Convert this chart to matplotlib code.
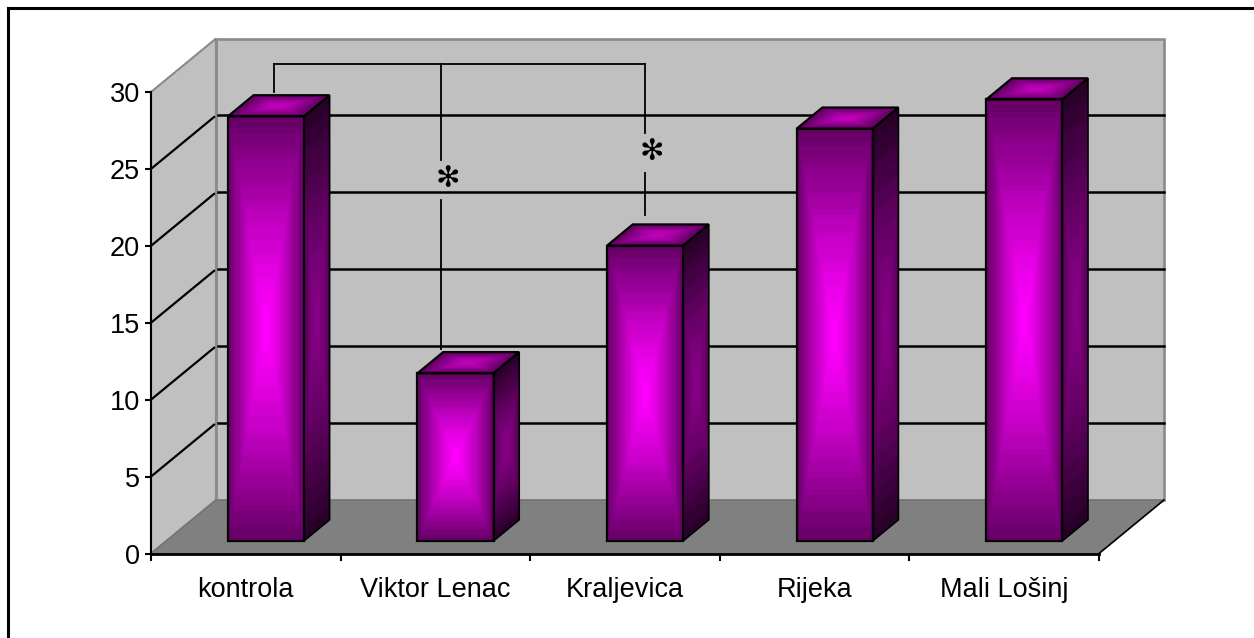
import numpy as np
import matplotlib
matplotlib.use("Agg")
import matplotlib.pyplot as plt
from matplotlib.colors import LinearSegmentedColormap
from matplotlib.lines import Line2D
from matplotlib.patches import Polygon

categories = ["kontrola", "Viktor Lenac", "Kraljevica", "Rijeka", "Mali Lošinj"]
values = [27.6, 10.9, 19.2, 26.8, 28.7]
y_ticks = [0, 5, 10, 15, 20, 25, 30]
grid_levels = [5, 10, 15, 20, 25]
bracket_y = 31.8
bracket_x = [0.649, 1.53, 2.606]
bracket_segments = [
    (0.649, 30.0, 31.8),
    (1.53, 25.6, 31.8),
    (1.53, 13.3, 23.0),
    (2.606, 27.35, 31.8),
    (2.606, 22.0, 24.75),
]
stars = [(1.567, 24.37), (2.64, 26.07)]

W, H = 1254, 638
L, R, T, B = 151, 1099, 92, 553.5
XMAX, YMAX = 5.0, 30.0
DX = 65 / (R - L) * XMAX
DY = 53.5 / (B - T) * YMAX
BAR_LEFT, BAR_W = 0.325, 0.401
D0, D1 = 0.235, 0.63

plt.rcParams["font.family"] = ["Liberation Sans", "DejaVu Sans"]
fig = plt.figure(figsize=(W / 100, H / 100), dpi=100, facecolor="white")
ax = fig.add_axes([L / W, 1 - B / H, (R - L) / W, (B - T) / H])
ax.set_xlim(0, XMAX)
ax.set_ylim(0, YMAX)
ax.patch.set_visible(False)


def P(x, y, d):
    return (x + d * DX, y + d * DY)


def poly(points, z, **kw):
    ax.add_patch(Polygon(points, closed=True, clip_on=False, zorder=z, **kw))


WALL, FLOOR, EDGE = "#c0c0c0", "#808080", "#8a8a8a"
poly([P(0, 0, 1), P(XMAX, 0, 1), P(XMAX, YMAX, 1), P(0, YMAX, 1)], 1,
     facecolor=WALL, edgecolor=EDGE, linewidth=1.9)
poly([P(0, 0, 0), P(0, YMAX, 0), P(0, YMAX, 1), P(0, 0, 1)], 1,
     facecolor=WALL, edgecolor=EDGE, linewidth=1.5)
poly([P(0, 0, 0), P(XMAX, 0, 0), P(XMAX, 0, 1), P(0, 0, 1)], 1.1,
     facecolor=FLOOR, edgecolor="#6e6e6e", linewidth=0.8)
ax.plot(*zip(P(XMAX, 0, 0), P(XMAX, 0, 1)), color="black", lw=1.2, clip_on=False, zorder=1.2)

for v in grid_levels:
    ax.plot(*zip(P(0, v, 0), P(0, v, 0.97)), color="black", lw=1.6, clip_on=False, zorder=1.3)
    ax.plot(*zip(P(0.012, v, 1), P(XMAX, v, 1)), color="black", lw=1.8, clip_on=False, zorder=1.3)


def shaded_face(p00, p10, p01, p11, bright, dark, z, uw=1.0):
    n = 72
    u, v = np.meshgrid(np.linspace(0, 1, n + 1), np.linspace(0, 1, n + 1))
    p00, p10, p01, p11 = map(np.array, (p00, p10, p01, p11))
    X = (1 - u) * (1 - v) * p00[0] + u * (1 - v) * p10[0] + (1 - u) * v * p01[0] + u * v * p11[0]
    Y = (1 - u) * (1 - v) * p00[1] + u * (1 - v) * p10[1] + (1 - u) * v * p01[1] + u * v * p11[1]
    uc = (u[:-1, :-1] + u[1:, 1:]) / 2
    vc = (v[:-1, :-1] + v[1:, 1:]) / 2
    t = np.maximum(uw * np.abs(2 * uc - 1), np.abs(2 * vc - 1))
    t = (np.floor(t * 24) / 23.0) ** 1.25
    cmap = LinearSegmentedColormap.from_list("g", [bright, dark])
    ax.pcolormesh(X, Y, t, cmap=cmap, vmin=0, vmax=1, shading="flat", clip_on=False,
                  zorder=z, antialiased=False, linewidth=0, rasterized=True)


for i, val in enumerate(values):
    x0, x1 = i + BAR_LEFT, i + BAR_LEFT + BAR_W
    z = 2 + i * 0.01
    f = [P(x0, 0, D0), P(x1, 0, D0), P(x0, val, D0), P(x1, val, D0)]
    s = [P(x1, 0, D0), P(x1, 0, D1), P(x1, val, D0), P(x1, val, D1)]
    t = [P(x0, val, D0), P(x1, val, D0), P(x0, val, D1), P(x1, val, D1)]
    shaded_face(*f, "#ff00ff", "#680068", z)
    shaded_face(*s, "#880088", "#280028", z, uw=0.6)
    shaded_face(*t, "#c400c0", "#600060", z)
    kw = dict(facecolor="none", edgecolor="black", linewidth=1.6, joinstyle="miter")
    poly([f[0], f[1], f[3], f[2]], z + 0.001, **kw)
    poly([s[0], s[1], s[3], s[2]], z + 0.001, facecolor="none", edgecolor="black", linewidth=1.2)
    poly([t[0], t[1], t[3], t[2]], z + 0.001, **kw)

ax.spines["top"].set_visible(False)
ax.spines["right"].set_visible(False)
ax.spines["left"].set_linewidth(1.5)
ax.spines["bottom"].set_linewidth(2.0)
ax.spines["left"].set_zorder(1.5)
ax.spines["bottom"].set_zorder(1.5)
ax.set_yticks(y_ticks)
ax.set_yticklabels([str(v) for v in y_ticks], fontsize=19.5)
ax.tick_params(axis="y", direction="out", length=4, width=1.5, pad=4)
ax.set_xticks(np.arange(len(categories) + 1))
ax.set_xticklabels([])
ax.tick_params(axis="x", which="major", direction="out", length=5, width=1.5)
ax.set_xticks(np.arange(len(categories)) + 0.5, minor=True)
ax.set_xticklabels(categories, minor=True, fontsize=19.5)
ax.tick_params(axis="x", which="minor", length=0, pad=17)

ax.plot([bracket_x[0], bracket_x[-1]], [bracket_y, bracket_y], color="black", lw=1.3,
        clip_on=False, zorder=5)
for sx, y0, y1 in bracket_segments:
    ax.plot([sx, sx], [y0, y1], color="black", lw=1.3, clip_on=False, zorder=5)

for sx, sy in stars:
    ax.text(sx, sy, "\u273b", fontsize=21, ha="center", va="center", color="black",
            family="DejaVu Sans", zorder=6)

fig.add_artist(Line2D([8 / W, 8 / W], [0, 1 - 8 / H], color="black", lw=2.2,
                      transform=fig.transFigure, solid_capstyle="projecting"))
fig.add_artist(Line2D([8 / W, 1], [1 - 8 / H, 1 - 8 / H], color="black", lw=2.2,
                      transform=fig.transFigure, solid_capstyle="projecting"))

fig.savefig("out.png", dpi=100, facecolor="white")
